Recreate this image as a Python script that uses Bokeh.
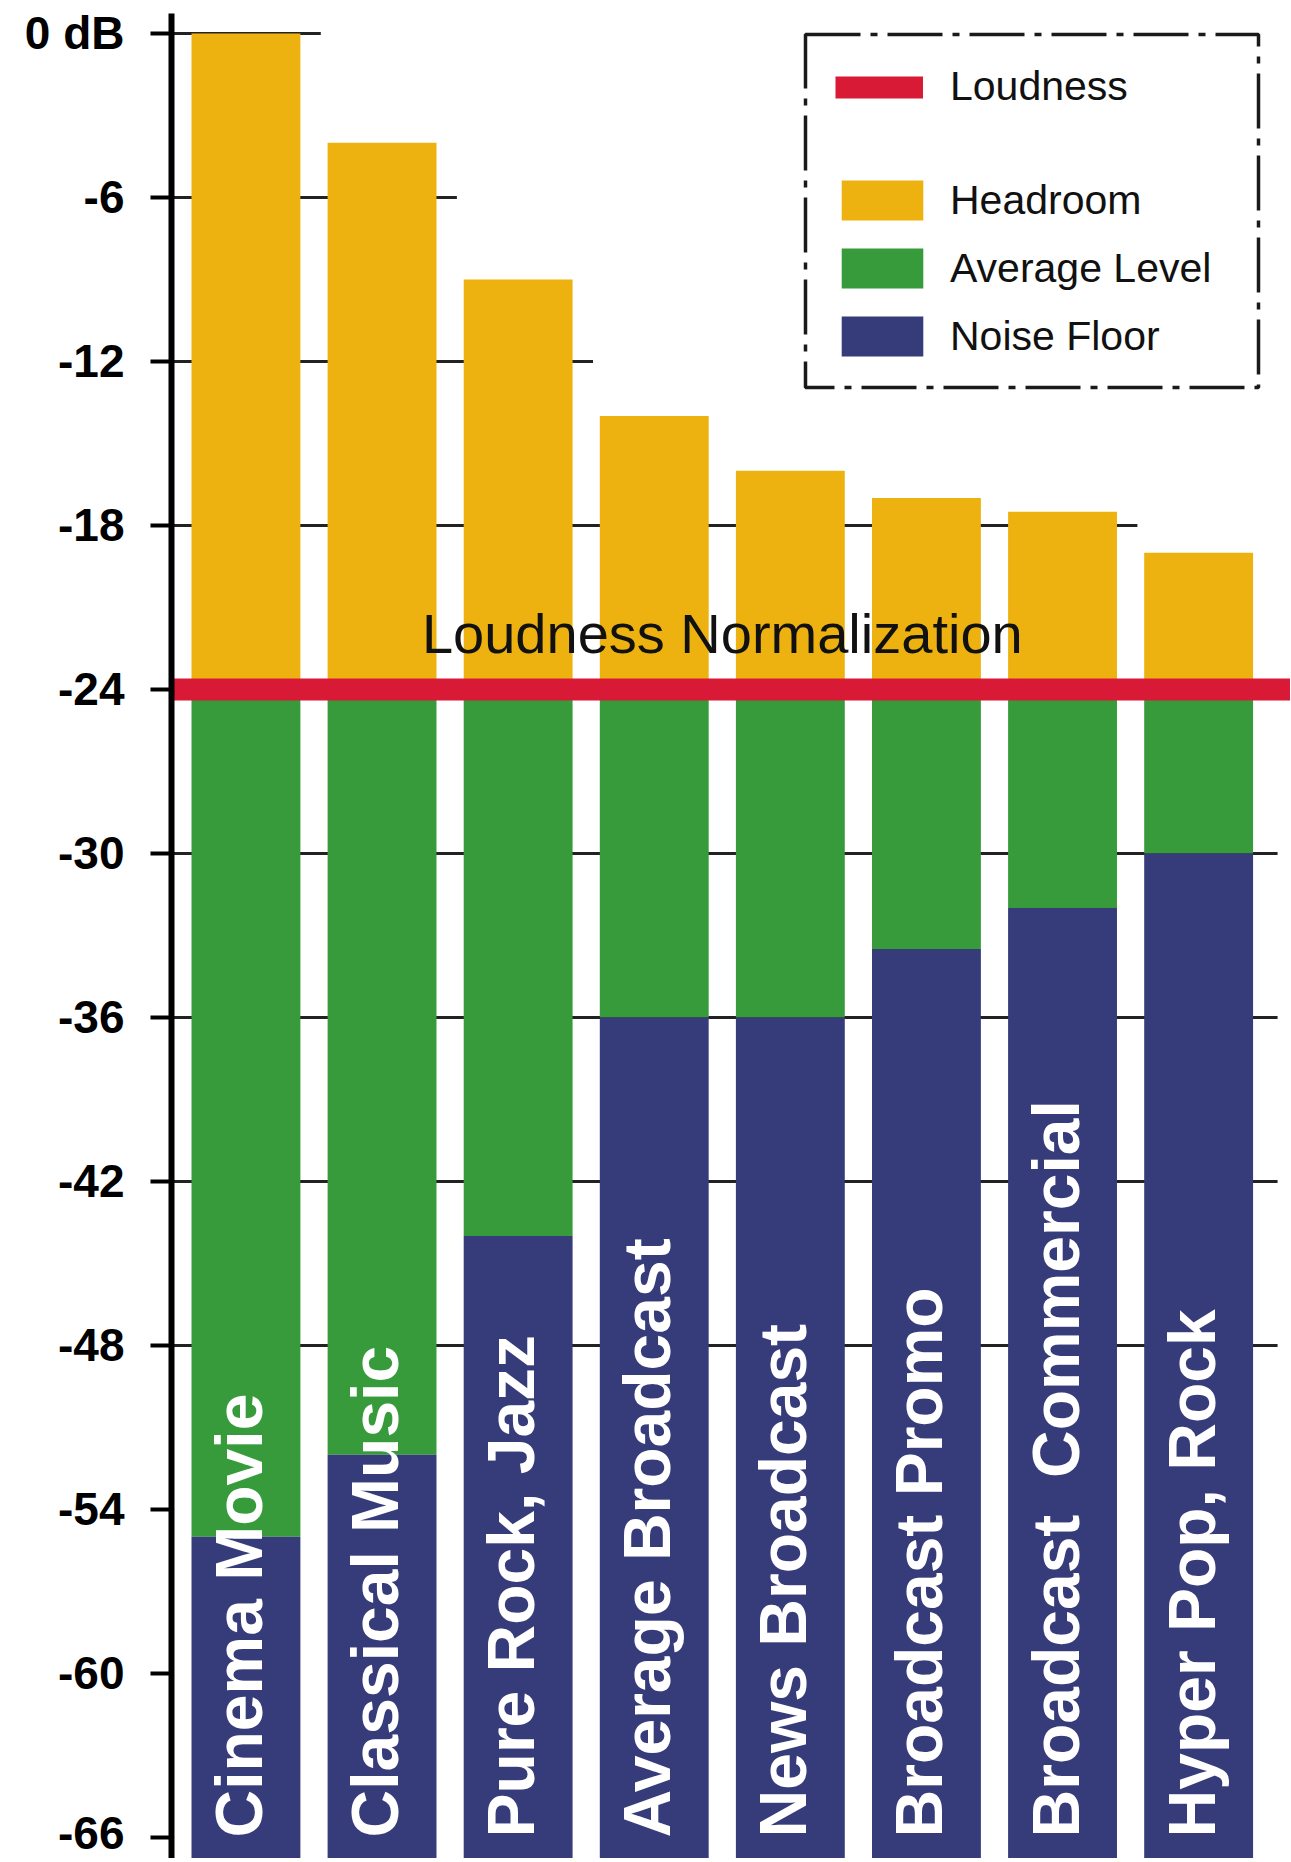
import numpy as np
from bokeh.plotting import figure
from bokeh.models import (Range1d, FixedTicker, Legend, LegendItem, Label,
                          BoxAnnotation, ColumnDataSource)
from bokeh.core.properties import value
from bokeh.embed import file_html
from bokeh.resources import INLINE

# ---------------- data ----------------
CATEGORIES = ["Cinema Movie", "Classical Music", "Pure Rock, Jazz",
              "Average Broadcast", "News Broadcast", "Broadcast Promo",
              "Broadcast \u00a0Commercial", "Hyper Pop, Rock"]
PEAK_DB = [0, -4, -9, -14, -16, -17, -17.5, -19]             # top of headroom
NOISE_FLOOR_DB = [-55, -52, -44, -36, -36, -33.5, -32, -30]  # top of noise floor
LOUDNESS_DB = -24                                            # normalization target
SCALE_FLOOR_DB = -66.77                                      # bottom of the scale
TICKS_DB = [0, -6, -12, -18, -24, -30, -36, -42, -48, -54, -60, -66]
TICK_LABELS = ["0 dB", "-6", "-12", "-18", "-24", "-30", "-36", "-42",
               "-48", "-54", "-60", "-66"]
GRID_LEVELS_DB = [0, -6, -12, -18, -24, -30, -36, -42, -48]
LEGEND_LABELS = ["Loudness", "Headroom", "Average Level", "Noise Floor"]
NORMALIZATION_TEXT = "Loudness Normalization"

# ---------------- style ----------------
YELLOW = "#EDB20F"
GREEN = "#379B3B"
NAVY = "#363B7A"
RED = "#D91A36"
FONT = "Liberation Sans"

W, H = 1290, 1858
LEFT, TOP = 171, 13
n = len(CATEGORIES)
idx = np.arange(n)
x_start, x_end = -0.547, n - 1 + 0.675
y_start, y_end = SCALE_FLOOR_DB, 0.73
px_per_db = (H - TOP) / (y_end - y_start)

p = figure(width=W, height=H, x_range=Range1d(x_start, x_end),
           y_range=Range1d(y_start, y_end), output_backend="svg",
           toolbar_location=None, tools="", x_axis_location=None,
           min_border_left=LEFT, min_border_right=0, min_border_top=TOP,
           min_border_bottom=0)
p.grid.visible = False
p.outline_line_color = None
p.background_fill_color = "white"
p.border_fill_color = "white"

# grid segments: run from the axis to the first bar whose peak lies below them
grid_x1 = []
for lvl in GRID_LEVELS_DB:
    below = [i for i in idx if PEAK_DB[i] < lvl]
    grid_x1.append(below[0] - 0.45 if below else n - 1 + 0.58)
p.segment(x0=[x_start] * len(GRID_LEVELS_DB), y0=GRID_LEVELS_DB,
          x1=grid_x1, y1=GRID_LEVELS_DB, line_color="#222222", line_width=3)

src = ColumnDataSource(dict(
    x=idx, cat=CATEGORIES, peak=PEAK_DB, loud=[LOUDNESS_DB] * n,
    noise=NOISE_FLOOR_DB, floor=[SCALE_FLOOR_DB] * n,
    label_y=[TICKS_DB[-1]] * n))

r_head = p.vbar(x="x", width=0.8, bottom="loud", top="peak", source=src,
                fill_color=YELLOW, line_color=None)
r_avg = p.vbar(x="x", width=0.8, bottom="noise", top="loud", source=src,
               fill_color=GREEN, line_color=None)
r_noise = p.vbar(x="x", width=0.8, bottom="floor", top="noise", source=src,
                 fill_color=NAVY, line_color=None)

r_loud = p.line(x=[x_start, x_end], y=[LOUDNESS_DB, LOUDNESS_DB],
                line_color=RED, line_width=22)

p.text(x="x", y="label_y", text="cat", source=src, angle=np.pi / 2,
       text_align="left", text_baseline="middle", text_color="white",
       text_font=value(FONT), text_font_style="bold", text_font_size="66px",
       x_offset=-7)

p.add_layout(Label(x=(n - 1) / 2, y=LOUDNESS_DB + 56 / px_per_db,
                   text=NORMALIZATION_TEXT, text_align="center",
                   text_baseline="middle", text_font=FONT,
                   text_font_size="56px", text_color="#111111"))

# axis
ax = p.yaxis[0]
ax.ticker = FixedTicker(ticks=TICKS_DB)
ax.major_label_overrides = {t: l for t, l in zip(TICKS_DB, TICK_LABELS)}
ax.axis_line_width = 6
ax.axis_line_color = "black"
ax.major_tick_line_width = 4
ax.major_tick_line_color = "black"
ax.major_tick_out = 21
ax.major_tick_in = 0
ax.minor_tick_out = 0
ax.minor_tick_in = 0
ax.major_label_standoff = 26
ax.major_label_text_font = FONT
ax.major_label_text_font_style = "bold"
ax.major_label_text_font_size = "46px"
ax.major_label_text_color = "black"

# legend
leg_a = Legend(items=[LegendItem(label=LEGEND_LABELS[0], renderers=[r_loud])],
               location=(664, 1748), glyph_width=88, glyph_height=40,
               label_standoff=27, spacing=0)
leg_b = Legend(items=[LegendItem(label=LEGEND_LABELS[1], renderers=[r_head]),
                      LegendItem(label=LEGEND_LABELS[2], renderers=[r_avg]),
                      LegendItem(label=LEGEND_LABELS[3], renderers=[r_noise])],
               location=(660, 1497), glyph_width=102, glyph_height=50,
               label_standoff=17, spacing=18)
for lg in (leg_a, leg_b):
    lg.padding = 0
    lg.margin = 0
    lg.border_line_color = None
    lg.background_fill_alpha = 0
    lg.label_text_font = FONT
    lg.label_text_font_size = "41px"
    lg.label_text_color = "#111111"
    lg.label_height = 40
    p.add_layout(lg, "center")

p.add_layout(BoxAnnotation(left=805, right=1258, top=34, bottom=387,
                           left_units="canvas", right_units="canvas",
                           top_units="canvas", bottom_units="canvas",
                           fill_color=None, fill_alpha=0, line_color="#1a1a1a",
                           line_alpha=1.0, line_width=3.5,
                           line_dash="55 10 7 10"))

open("out.html", "w").write(file_html(p, INLINE))
